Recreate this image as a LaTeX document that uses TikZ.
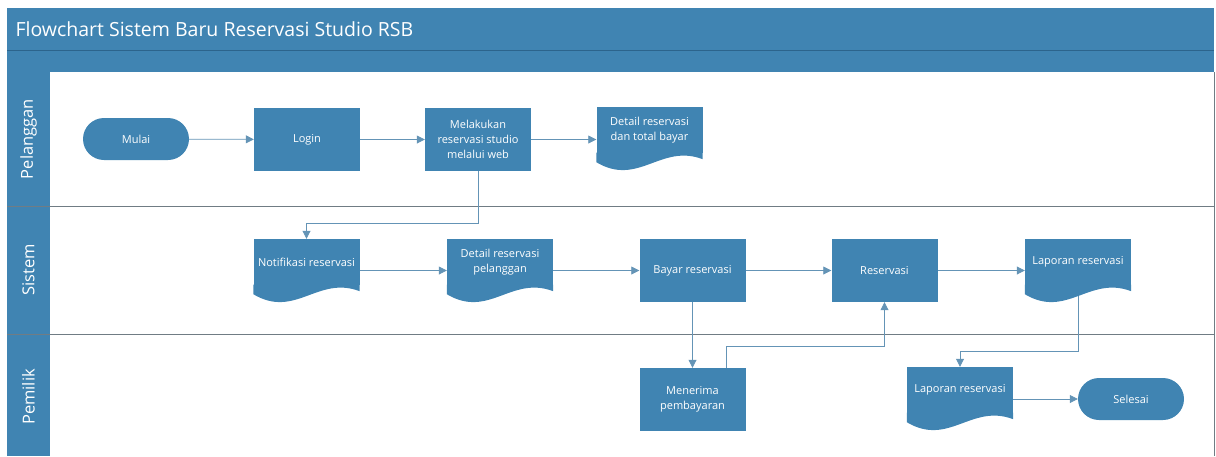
\documentclass[tikz,border=0pt]{standalone}
\usepackage{fontspec}
\setmainfont{Open Sans}
\usetikzlibrary{arrows.meta}

\definecolor{biru}{RGB}{64,132,178}
\definecolor{birutua}{RGB}{44,100,140}
\definecolor{garis}{RGB}{100,148,182}
\definecolor{abu}{RGB}{112,124,132}
\newcommand{\gelombang}[1]{\fill[biru] ([yshift=0.5pt]#1.south east) -- ([yshift=-6pt]#1.south east)
  .. controls ([shift={(-42pt,10pt)}]#1.south east) and ([shift={(42pt,-34pt)}]#1.south west)
  .. ([yshift=-9pt]#1.south west) -- ([yshift=0.5pt]#1.south west) -- cycle;}

\begin{document}
\begin{tikzpicture}[
    x=1pt, y=1pt,
    panah/.style={draw=garis, thick, -{Triangle[length=8pt,width=8pt]}},
    proses/.style={rectangle, fill=biru, text=white, minimum width=106pt,
      minimum height=63pt, inner sep=1pt, align=center,
      font=\fontsize{11}{15}\selectfont},
    dokumen/.style={proses, minimum height=46pt},
    terminal/.style={proses, minimum height=42pt, rounded corners=21pt},
    lajur/.style={rotate=90, text=white, font=\fontsize{16.5}{18}\selectfont}
  ]
  \useasboundingbox (0,0) rectangle (1216,-456);
  \fill[biru] (7,-8) rectangle (1214,-72);
  \fill[biru] (7,-72) rectangle (50,-456);
  \draw[birutua, thick] (7,-50) -- (1214,-50);
  \draw[abu, thick] (7,-206) -- (1214,-206) (7,-334) -- (1214,-334);
  \draw[abu] (1214,-72) -- (1214,-456);

  \path (12,-29) node(judul) [anchor=west, text=white,
      font=\fontsize{19.5}{22}\selectfont] {Flowchart Sistem Baru Reservasi Studio RSB}
  (28.5,-139) node(pelanggan) [lajur] {Pelanggan}
  (28.5,-270) node(sistem) [lajur] {Sistem}
  (28.5,-397) node(pemilik) [lajur] {Pemilik}

  (136,-139) node(mulai) [terminal] {Mulai}
  (307,-139.5) node(login) [proses] {Login}
  (478,-139.5) node(melakukan) [proses] {Melakukan\\reservasi studio\\melalui web}
  (649.5,-130) node(detail) [dokumen] {Detail reservasi\\dan total bayar}

  (306.5,-262) node(notifikasi) [dokumen] {Notifikasi reservasi}
  (500,-262) node(detailpel) [dokumen] {Detail reservasi\\pelanggan}
  (692.5,-270.5) node(bayar) [proses] {Bayar reservasi}
  (884.5,-270.5) node(reservasi) [proses] {Reservasi}
  (1078,-262) node(laporan) [dokumen] {Laporan reservasi}

  (692.5,-399.5) node(terima) [proses] {Menerima\\pembayaran}
  (960,-390) node(laporanpem) [dokumen] {Laporan reservasi}
  (1131,-399) node(selesai) [terminal] {Selesai};

  \draw[panah] (mulai) -- (login);
  \draw[panah] (login) -- (melakukan);
  \draw[panah] (melakukan) -- (detail.west |- melakukan.east);
  \draw[panah] (melakukan.south) -- ++(0,-52) -| (notifikasi.north);
  \draw[panah] (notifikasi.east |- bayar.west) -- (detailpel.west |- bayar.west);
  \draw[panah] (detailpel.east |- bayar.west) -- (bayar.west);
  \draw[panah] (bayar) -- (reservasi);
  \draw[panah] (reservasi.east) -- (laporan.west |- reservasi.east);
  \draw[panah] (bayar) -- (terima);
  \draw[panah] ([xshift=33.5pt]terima.north) -- ++(0,21) -| (reservasi.south);
  \draw[panah] (laporan.south) -- ++(0,-66) -| (laporanpem.north);
  \draw[panah] (laporanpem.east |- selesai.west) -- (selesai.west);

  \gelombang{detail}
  \gelombang{notifikasi}
  \gelombang{detailpel}
  \gelombang{laporan}
  \gelombang{laporanpem}
\end{tikzpicture}
\end{document}
